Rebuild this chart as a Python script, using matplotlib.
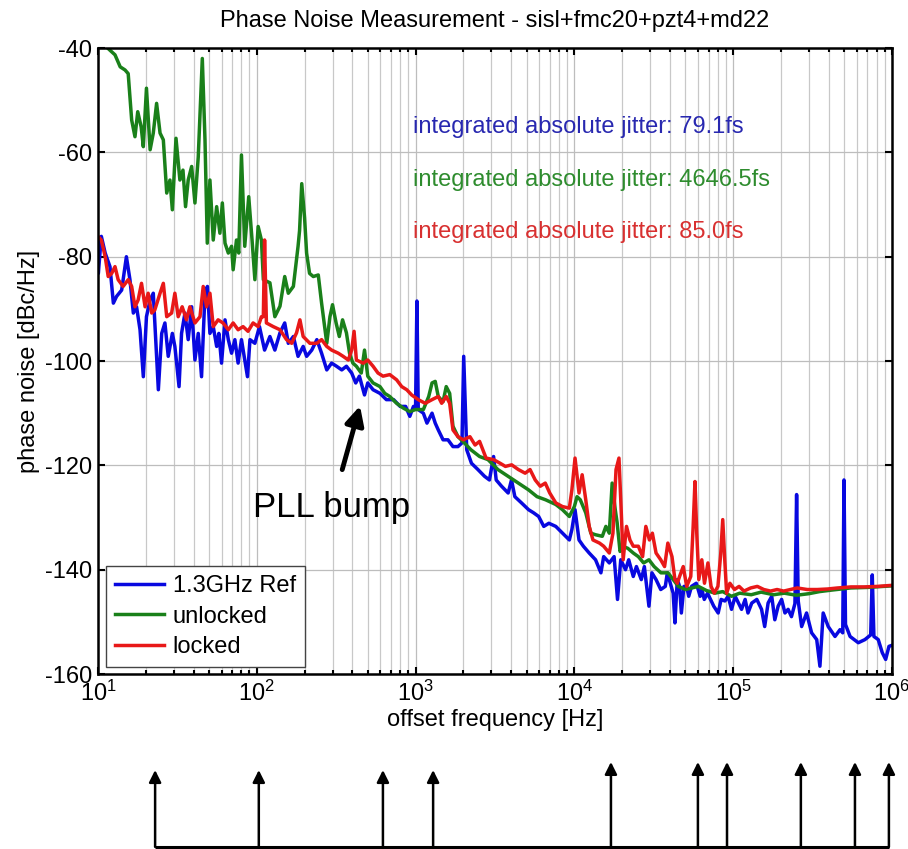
# -*- coding:utf-8 -*-
import numpy as np
import matplotlib
matplotlib.use("Agg")
import matplotlib.pyplot as plt
from matplotlib.transforms import blended_transform_factory
from matplotlib.ticker import LogLocator, NullFormatter

# ---- measured phase noise traces (offset freq [Hz], dBc/Hz) ----
ref_f = [10.0, 10.05, 10.5, 11.1, 11.9, 12.5, 13.1, 14.1, 15.1, 15.9, 16.7, 17.5, 18.4, 19.3,
         20.2, 21.3, 22.3, 24.0, 25.2, 26.4, 27.7, 29.4, 30.5, 32.4, 33.6, 35.3, 37.0, 38.9,
         40.8, 42.8, 44.9, 47.2, 48.9, 50.7, 53.2, 55.9, 57.7, 60.0, 63.1, 66.2, 69.4, 72.8,
         76.3, 80.1, 84.0, 87.4, 90.6, 97.3, 104, 112, 121, 130, 140, 150, 158, 170, 182, 196,
         206, 222, 239, 256, 276, 296, 318, 343, 367, 396, 420, 443, 477, 500, 540, 597, 655,
         727, 800, 866, 920, 970, 1000, 1020, 1040, 1120, 1180, 1270, 1330, 1390, 1490, 1600,
         1720, 1850, 1960, 2010, 2100, 2250, 2470, 2720, 2920, 3100, 3220, 3480, 3830, 4020,
         4220, 4650, 5150, 5540, 5960, 6420, 6910, 7640, 8420, 9300, 9650, 10100, 10700, 11400,
         12400, 13600, 14700, 15300, 16600, 17800, 18700, 19600, 21000, 22000, 23500, 24600,
         26400, 27600, 29500, 30800, 32700, 35000, 37400, 38500, 41900, 43000, 44500, 46000,
         47200, 49000, 51000, 52500, 54700, 58600, 62000, 63600, 65800, 69000, 72000, 75500,
         80500, 84000, 88700, 93000, 97700, 103000, 108000, 113000, 119000, 124000, 131000,
         141000, 151000, 158000, 166000, 175000, 183000, 192000, 202000, 212000, 222000,
         233000, 245000, 251000, 257000, 270000, 290000, 312000, 336000, 352000, 369000,
         397000, 438000, 471000, 490000, 499000, 510000, 545000, 614000, 676000, 735000,
         752000, 770000, 820000, 869000, 913000, 958000, 1000000]
ref_db = [-76.8, -83.2, -76.1, -79.3, -81.9, -88.9, -87.6, -86.4, -80.0, -84.4, -90.8, -89.6,
          -94.0, -103.0, -91.5, -88.3, -87.0, -105.5, -94.7, -92.7, -99.1, -94.7, -97.2, -104.9,
          -94.7, -90.8, -95.9, -89.6, -99.8, -94.7, -103.0, -87.0, -85.7, -94.7, -93.4, -97.2,
          -94.7, -100.4, -92.1, -95.9, -98.5, -95.9, -100.4, -95.9, -99.8, -103.0, -95.9, -96.6,
          -93.4, -97.9, -95.3, -97.9, -94.6, -92.7, -96.6, -95.3, -99.1, -97.2, -99.1, -97.9,
          -95.9, -98.5, -101.7, -100.4, -101.0, -101.7, -101.0, -102.3, -104.2, -102.9, -106.5,
          -104.2, -105.5, -106.2, -107.4, -107.4, -108.7, -108.7, -110.6, -108.7, -109.0, -88.5,
          -109.3, -110.0, -111.9, -110.0, -111.9, -113.2, -115.1, -115.1, -116.4, -116.4,
          -115.7, -99.1, -117.0, -119.6, -120.8, -122.1, -122.8, -118.3, -122.8, -124.0,
          -125.3, -122.8, -126.0, -127.2, -128.5, -129.1, -129.8, -131.7, -131.1, -131.7,
          -133.0, -134.3, -132.3, -128.5, -134.3, -135.5, -136.8, -138.1, -140.6, -137.5,
          -138.7, -137.5, -145.7, -138.1, -140.0, -138.1, -141.3, -139.4, -141.9, -139.4,
          -147.0, -140.6, -141.9, -143.8, -143.2, -140.6, -144.5, -150.2, -141.9, -143.2,
          -148.3, -143.2, -143.2, -145.1, -143.2, -142.6, -145.1, -143.8, -145.7, -144.5,
          -145.7, -147.0, -148.3, -145.7, -146.0, -145.1, -147.6, -145.1, -146.4, -147.6,
          -145.7, -148.3, -146.4, -145.7, -147.6, -150.9, -146.4, -145.1, -149.6, -147.0,
          -145.7, -148.3, -147.6, -149.0, -146.5, -125.6, -146.0, -150.9, -148.3, -152.1,
          -153.4, -158.5, -148.3, -150.9, -152.8, -151.5, -152.1, -122.8, -150.5, -152.8,
          -154.0, -153.4, -152.5, -141.0, -152.8, -153.4, -155.9, -157.2, -154.7, -154.5]

unlock_f = [10.0, 11.5, 12.8, 13.8, 14.8, 15.5, 16.3, 17.1, 17.8, 18.7, 19.3, 20.2, 21.3, 22.3,
            23.4, 24.6, 25.8, 27.1, 28.4, 29.4, 31.0, 32.8, 34.3, 35.6, 37.0, 38.9, 40.8, 42.8,
            45.4, 47.2, 48.8, 50.7, 53.2, 55.9, 58.6, 60.7, 63.1, 66.2, 69.4, 71.0, 74.5, 77.0,
            80.1, 84.0, 89.0, 93.4, 97.3, 102, 107, 110, 121, 130, 140, 150, 158, 170, 182, 186,
            192, 200, 206, 215, 227, 244, 256, 276, 289, 300, 316, 331, 347, 367, 384, 403, 424,
            455, 477, 500, 540, 597, 640, 688, 760, 835, 920, 1000, 1120, 1210, 1270, 1330, 1390,
            1490, 1560, 1640, 1720, 1850, 2030, 2230, 2530, 2860, 3300, 3830, 4440, 5150, 5820,
            6590, 7640, 8420, 9300, 10000, 10400, 10900, 11800, 12700, 13600, 15000, 15800,
            16600, 17300, 18100, 18600, 19400, 20200, 21700, 23500, 25300, 27300, 29500, 31800,
            35100, 38900, 41900, 45200, 50000, 55000, 60400, 68000, 76800, 86000, 97700, 110000,
            130000, 150000, 180000, 210000, 250000, 300000, 350000, 420000, 550000, 700000,
            1000000]
unlock_db = [-36.0, -40.0, -41.3, -43.6, -44.2, -44.9, -53.8, -57.0, -52.2, -55.1, -58.9, -47.7,
             -59.5, -56.3, -50.6, -56.3, -57.6, -67.8, -65.3, -71.0, -57.3, -65.3, -63.4, -70.4,
             -65.3, -62.7, -69.7, -60.9, -42.0, -57.6, -77.4, -65.3, -76.8, -70.4, -75.5, -69.7,
             -77.4, -79.3, -78.0, -82.5, -76.8, -79.3, -60.5, -78.0, -68.5, -76.8, -84.4, -74.2,
             -76.8, -84.4, -85.0, -91.5, -89.5, -83.8, -87.0, -85.7, -78.0, -75.0, -66.0, -72.5,
             -79.3, -83.2, -83.8, -83.5, -88.9, -96.6, -91.5, -89.2, -92.7, -95.3, -92.1, -94.6,
             -98.5, -100.4, -101.0, -102.3, -97.9, -102.9, -104.2, -104.9, -106.2, -106.8,
             -108.1, -109.0, -109.7, -109.3, -109.3, -106.8, -104.2, -103.9, -106.8, -107.8,
             -104.9, -106.2, -112.5, -114.5, -115.7, -117.0, -118.3, -118.9, -120.8, -122.1,
             -123.4, -124.7, -126.0, -126.6, -127.5, -128.5, -129.8, -127.9, -126.0, -126.6,
             -129.1, -133.0, -133.3, -133.6, -131.7, -133.0, -123.4, -128.5, -131.0, -136.5,
             -135.5, -135.9, -136.8, -137.5, -138.7, -138.1, -139.4, -140.6, -140.6, -141.9,
             -143.2, -143.8, -143.5, -143.2, -144.0, -144.5, -144.2, -145.1, -144.5, -144.8,
             -144.3, -144.8, -144.5, -144.9, -144.6, -144.2, -143.9, -143.5, -143.4, -143.1]

lock_f = [10.0, 10.5, 11.1, 11.6, 12.2, 12.8, 13.4, 14.4, 15.5, 16.3, 17.1, 17.9, 18.8, 19.8,
          20.7, 21.8, 22.8, 24.6, 25.8, 27.1, 29.1, 30.5, 32.0, 33.9, 36.1, 37.9, 40.8, 43.9,
          46.0, 48.3, 50.7, 53.2, 57.1, 61.3, 66.2, 71.0, 76.3, 82.0, 88.1, 94.8, 102, 107, 110,
          112, 115, 127, 140, 154, 166, 178, 187, 196, 216, 239, 256, 276, 296, 326, 350, 377,
          396, 410, 424, 468, 500, 540, 580, 624, 688, 760, 818, 880, 945, 1040, 1150, 1270,
          1390, 1460, 1560, 1640, 1720, 1850, 2000, 2200, 2370, 2530, 2780, 3100, 3410, 3680,
          4030, 4440, 4900, 5260, 5670, 6100, 6560, 7000, 7640, 8420, 9300, 9650, 10100, 10700,
          11200, 11800, 12400, 13100, 14400, 15300, 16600, 17500, 18300, 19100, 19600, 20300,
          21300, 22400, 23500, 25300, 26900, 28200, 29700, 31000, 32700, 35000, 37000, 38800,
          41200, 43000, 44500, 46000, 48500, 51000, 54100, 56000, 57500, 59000, 60800, 63500,
          66000, 69400, 72600, 76000, 80200, 83500, 86000, 88500, 91000, 95400, 102000, 109000,
          117000, 129000, 142000, 156000, 172000, 189000, 208000, 230000, 253000, 293000,
          339000, 393000, 455000, 552000, 671000, 813000, 1000000]
lock_db = [-76.1, -76.8, -80.0, -83.8, -83.2, -81.9, -84.4, -85.7, -84.4, -85.7, -89.6, -88.3,
           -85.1, -89.6, -87.0, -90.8, -90.2, -87.0, -85.1, -91.5, -90.8, -87.0, -91.5, -89.6,
           -92.1, -89.6, -92.7, -91.5, -85.7, -89.6, -87.0, -93.4, -92.1, -92.7, -94.0, -92.7,
           -94.0, -93.4, -94.3, -92.7, -93.4, -91.5, -91.5, -76.8, -92.7, -93.4, -94.0, -95.9,
           -96.6, -94.6, -92.1, -95.3, -96.6, -96.6, -95.9, -97.2, -97.9, -98.5, -99.1, -99.8,
           -97.9, -94.3, -99.8, -100.4, -99.8, -101.0, -102.3, -102.9, -102.6, -103.6, -104.9,
           -105.5, -106.5, -107.4, -108.1, -107.4, -106.8, -108.1, -106.8, -108.1, -113.2,
           -114.5, -115.1, -114.5, -116.1, -115.4, -118.6, -118.9, -119.6, -120.2, -119.9,
           -120.8, -121.5, -120.8, -122.8, -124.0, -123.4, -125.3, -127.2, -127.9, -128.2,
           -124.7, -118.6, -125.3, -121.8, -126.6, -131.7, -134.3, -134.9, -135.5, -136.8,
           -133.0, -120.8, -118.6, -126.6, -138.1, -131.7, -134.3, -135.5, -135.5, -137.5,
           -131.7, -134.3, -133.0, -136.8, -138.1, -139.4, -134.9, -137.5, -141.9, -142.6,
           -141.3, -139.4, -143.2, -141.3, -131.7, -123.1, -133.0, -141.9, -138.1, -142.6,
           -138.7, -143.2, -144.5, -143.2, -137.0, -130.4, -138.0, -144.5, -142.6, -143.8,
           -143.2, -144.1, -143.5, -143.2, -143.8, -144.1, -143.8, -144.1, -143.8, -143.5,
           -143.8, -143.8, -143.7, -143.5, -143.3, -143.3, -143.2, -143.0]

series_labels = ['1.3GHz Ref', 'unlocked', 'locked']
jitter_fs = ['79.1', '4646.5', '85.0']

# offsets marked on the frequency bar under the plot
marker_freqs = [22.9, 103, 623, 1290, 17000, 60000, 91500, 267000, 585000, 957000]

plt.rcParams['font.family'] = ['Liberation Sans', 'DejaVu Sans']
plt.rcParams['axes.unicode_minus'] = False
plt.rcParams['mathtext.fontset'] = 'custom'
plt.rcParams['mathtext.rm'] = 'Liberation Sans'

line_colors = ['#0808e0', '#1a801a', '#e81818']
text_colors = ['#2828b0', '#2e8c2e', '#d83030']
fs = 17

fig = plt.figure(figsize=(9.08, 8.49), dpi=100)
ax = fig.add_axes([0.1079, 0.2061, 0.8744, 0.7373])

for xs, ys, lab, c in zip([ref_f, unlock_f, lock_f], [ref_db, unlock_db, lock_db],
                          series_labels, line_colors):
    ax.plot(xs, ys, color=c, lw=2.5, label=lab)

ax.set_xscale('log')
ax.set_xlim(10, 1e6)
ax.set_ylim(-160, -40)
ax.set_yticks(np.arange(-160, -39, 20))
ax.xaxis.set_major_locator(LogLocator(base=10, numticks=10))
ax.xaxis.set_minor_locator(LogLocator(base=10, subs=np.arange(2, 10), numticks=20))
ax.xaxis.set_minor_formatter(NullFormatter())

ax.grid(True, which='major', color='#bdbdbd', lw=0.9)
ax.grid(True, which='minor', axis='x', color='#c8c8c8', lw=0.9)
ax.set_axisbelow(True)

ax.tick_params(which='both', direction='in', top=True, right=True, width=1.5,
               labelsize=fs)
ax.tick_params(which='major', length=5)
ax.tick_params(which='minor', length=3)
ax.tick_params(axis='x', pad=5)
ax.tick_params(axis='y', pad=4)
for sp in ax.spines.values():
    sp.set_linewidth(1.8)

ax.set_title('Phase Noise Measurement - sisl+fmc20+pzt4+md22', fontsize=fs, pad=15)
ax.set_xlabel('offset frequency [Hz]', fontsize=fs, labelpad=2)
ax.set_ylabel('phase noise [dBc/Hz]', fontsize=fs, labelpad=4)

for i, (j, c) in enumerate(zip(jitter_fs, text_colors)):
    ax.text(0.397, 0.874 - i * 0.084, 'integrated absolute jitter: {}fs'.format(j),
            color=c, fontsize=fs, ha='left', va='center', transform=ax.transAxes)

ax.annotate('PLL bump', xy=(447, -108.6), xytext=(296, -128.1), fontsize=25,
            ha='center', va='center',
            arrowprops=dict(arrowstyle='-|>', color='k', lw=3.5, mutation_scale=28,
                            shrinkA=14, shrinkB=0))

leg = ax.legend(loc='lower left', bbox_to_anchor=(0.01, 0.011), borderaxespad=0,
                fontsize=fs, handlelength=2.1, handletextpad=0.35, labelspacing=0.36,
                borderpad=0.38, fancybox=False, framealpha=1)
leg.get_frame().set_edgecolor('#444444')
leg.get_frame().set_linewidth(1.0)

# frequency bar with upward arrows below the axes
trans = blended_transform_factory(ax.transData, fig.transFigure)
bar_y = 0.0025
ax.plot([marker_freqs[0], marker_freqs[-1]], [bar_y, bar_y], color='k', lw=2.2,
        transform=trans, clip_on=False, solid_capstyle='butt')
for f in marker_freqs:
    tip = 0.093 if f < 1e4 else 0.1025
    ax.annotate('', xy=(f, tip), xytext=(f, bar_y), xycoords=trans, textcoords=trans,
                annotation_clip=False,
                arrowprops=dict(arrowstyle='-|>', color='k', lw=1.8, mutation_scale=18,
                                shrinkA=0, shrinkB=0))

fig.savefig('out.png', dpi=100)
plt.close(fig)
